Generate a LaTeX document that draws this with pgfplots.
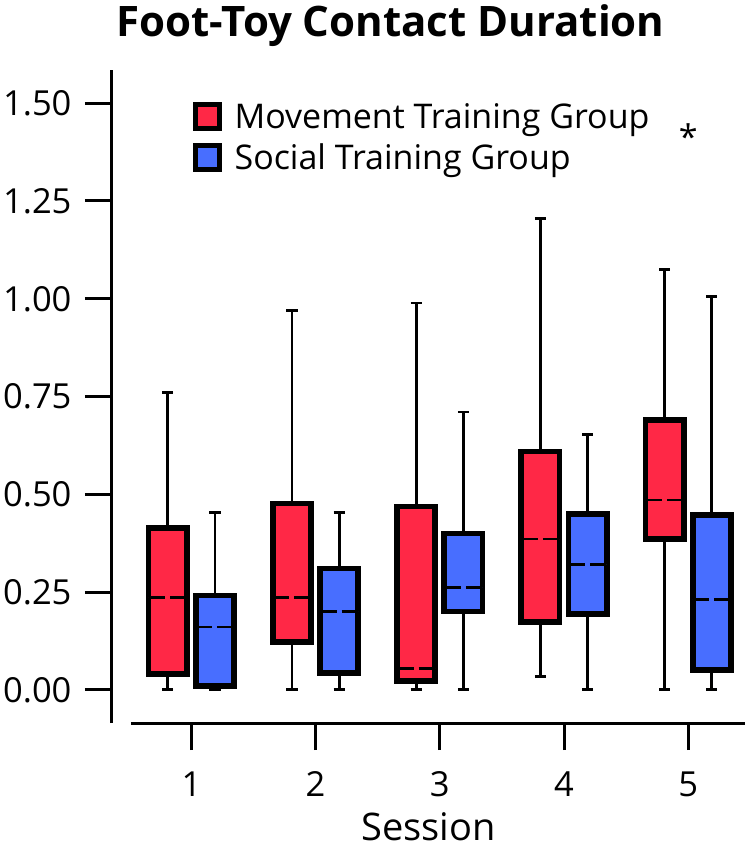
\documentclass[border=0pt]{standalone}
\usepackage{pgfplots}
\pgfplotsset{compat=1.18}
\usepgfplotslibrary{statistics}
\usepackage{fontspec}
\setmainfont{Open Sans}
\definecolor{mred}{RGB}{255,40,70}
\definecolor{sblue}{RGB}{72,110,255}
\pgfplotsset{
  bx/.style={draw=black, fill=#1, line width=5.7pt, line join=miter, forget plot,
    boxplot/draw direction=y,
    boxplot/box extend=0.308, boxplot/whisker extend=0.09,
    boxplot/every whisker/.style={line width=2.7pt},
    boxplot/every median/.style={line width=2.5pt, dash pattern=on 16.5pt off 5pt}},
}
\begin{document}
\begin{tikzpicture}
\useasboundingbox (-112pt,-130pt) rectangle (641pt,723pt);
\begin{axis}[
  scale only axis, width=633pt, height=653pt,
  xmin=0.361, xmax=5.457, ymin=-0.085, ymax=1.585,
  axis lines=left, axis line style={line width=3pt, -},
  x axis line style={shorten <=19pt},
  tick align=outside, major tick length=27pt,
  tick style={line width=3pt, black},
  xtick={1,2,3,4,5}, ytick={0,0.25,0.5,0.75,1,1.25,1.5},
  yticklabel style={/pgf/number format/fixed, /pgf/number format/fixed zerofill, /pgf/number format/precision=2, xshift=-10pt},
  xticklabel style={yshift=-18pt},
  /pgf/number format/assume math mode=true,
  tick label style={font=\fontsize{34.5}{40}\selectfont},
  xlabel={Session}, xlabel style={font=\fontsize{38}{43}\selectfont, at={(0.5,0)}, anchor=base, yshift=-117pt},
  title={Foot-Toy Contact Duration},
  title style={at={(0.44,1)}, anchor=base, yshift=27pt, font=\bfseries\fontsize{42}{48}\selectfont},
  clip=false,
  legend style={at={(0.127,0.952)}, anchor=north west, draw=none, fill=none,
    font=\fontsize{34}{39}\selectfont, row sep=10pt, inner sep=0pt},
  legend cell align=left,
]
% Movement Training Group
\addplot[bx=mred, boxplot prepared={draw position=0.81, lower whisker=0, lower quartile=0.04, median=0.236, upper quartile=0.414, upper whisker=0.761}] coordinates {};
\addplot[bx=mred, boxplot prepared={draw position=1.81, lower whisker=0, lower quartile=0.123, median=0.236, upper quartile=0.476, upper whisker=0.97}] coordinates {};
\addplot[bx=mred, boxplot prepared={draw position=2.81, lower whisker=0, lower quartile=0.022, median=0.054, upper quartile=0.469, upper whisker=0.989}] coordinates {};
\addplot[bx=mred, boxplot prepared={draw position=3.81, lower whisker=0.034, lower quartile=0.173, median=0.385, upper quartile=0.609, upper whisker=1.205}] coordinates {};
\addplot[bx=mred, boxplot prepared={draw position=4.81, lower whisker=0, lower quartile=0.386, median=0.485, upper quartile=0.69, upper whisker=1.075}] coordinates {};
% Social Training Group
\addplot[bx=sblue, boxplot prepared={draw position=1.19, lower whisker=0, lower quartile=0.01, median=0.161, upper quartile=0.241, upper whisker=0.454}] coordinates {};
\addplot[bx=sblue, boxplot prepared={draw position=2.19, lower whisker=0, lower quartile=0.042, median=0.2, upper quartile=0.31, upper whisker=0.454}] coordinates {};
\addplot[bx=sblue, boxplot prepared={draw position=3.19, lower whisker=0, lower quartile=0.2, median=0.261, upper quartile=0.40, upper whisker=0.71}] coordinates {};
\addplot[bx=sblue, boxplot prepared={draw position=4.19, lower whisker=0, lower quartile=0.194, median=0.32, upper quartile=0.449, upper whisker=0.652}] coordinates {};
\addplot[bx=sblue, boxplot prepared={draw position=5.19, lower whisker=0, lower quartile=0.051, median=0.231, upper quartile=0.447, upper whisker=1.006}] coordinates {};
\addlegendimage{legend image code/.code={\draw[draw=black, fill=mred, line width=5pt] (2.5pt,-12pt) rectangle (26.5pt,12pt); \path[draw=none, fill=none] (0pt,0pt) rectangle (40pt,0.1pt);}}
\addlegendentry{Movement Training Group}
\addlegendimage{legend image code/.code={\draw[draw=black, fill=sblue, line width=5pt] (2.5pt,-12pt) rectangle (26.5pt,12pt); \path[draw=none, fill=none] (0pt,0pt) rectangle (40pt,0.1pt);}}
\addlegendentry{Social Training Group}
\node[font=\fontsize{34}{40}\selectfont] at (axis cs:5,1.415) {*};
\end{axis}
\end{tikzpicture}
\end{document}
